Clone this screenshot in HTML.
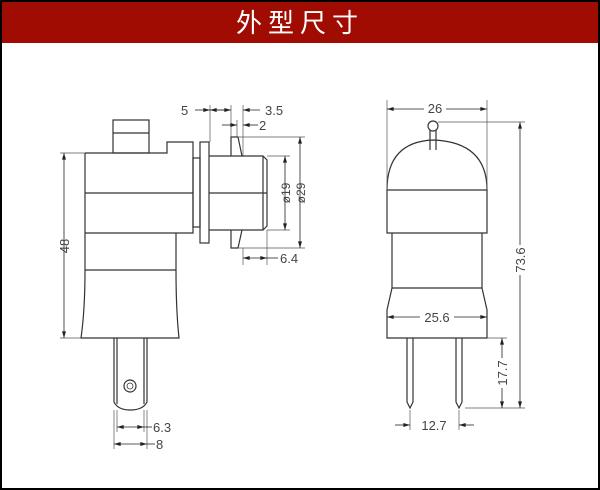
<!DOCTYPE html>
<html><head><meta charset="utf-8"><style>
html,body{margin:0;padding:0;background:#000;}
.wrap{position:absolute;left:0;top:0;width:600px;height:490px;background:#000;}
svg{position:absolute;left:0;top:0;}
</style></head><body><div class="wrap">
<svg width="600" height="490" viewBox="0 0 600 490" font-family="'Liberation Sans','DejaVu Sans',sans-serif">
<defs>
<marker id="a" viewBox="0 0 10 6" refX="10" refY="3" markerWidth="7" markerHeight="4" orient="auto-start-reverse" markerUnits="userSpaceOnUse"><path d="M0,0L10,3L0,6z" fill="#222"/></marker>
</defs>
<rect x="2" y="2" width="596" height="486" fill="#fff"/>
<rect x="2" y="2" width="596" height="41" fill="#a00c02"/>
<text x="300" y="32" text-anchor="middle" fill="#fff" font-size="26" font-family="'Liberation Sans','Noto Sans CJK SC',sans-serif" letter-spacing="6">外型尺寸</text>

<g fill="none" stroke="#333" stroke-width="1.2">
<!-- left view -->
<rect x="113" y="120" width="36" height="33"/>
<line x1="113" y1="133" x2="149" y2="133"/>
<path d="M85,153 L167,153 L167,142 L193,142 L193,233 L176,233"/>
<line x1="85" y1="153" x2="85" y2="270"/>
<line x1="85" y1="193" x2="193" y2="193"/>
<line x1="85" y1="233" x2="176" y2="233"/>
<line x1="176" y1="233" x2="176" y2="270"/>
<line x1="85" y1="270" x2="176" y2="270"/>
<path d="M85,270 Q85,310 81,338 L179,338 Q176,310 176,270"/>
<rect x="193" y="158" width="7" height="69"/>
<rect x="200" y="142" width="9" height="101"/>
<path d="M209,156 L263,156 L267,160 L267,226 L263,230 L209,230"/>
<line x1="263" y1="156" x2="263" y2="230"/>
<line x1="209" y1="193" x2="267" y2="193"/>
<path d="M231,156 L231,137 L238,137 L242,156"/>
<path d="M231,230 L231,248 L238,248 L242,230"/>
<path d="M114,338 L114,402 Q118,410 130,410 Q143,410 147,402 L147,338"/>
<line x1="117" y1="338" x2="117" y2="404"/>
<line x1="144" y1="338" x2="144" y2="404"/>
<circle cx="130" cy="386" r="6"/>
<circle cx="130" cy="386" r="3" stroke-width="0.8"/>
</g>
<g fill="none" stroke="#555" stroke-width="0.7">
<line x1="60" y1="153" x2="85" y2="153"/><line x1="60" y1="338" x2="81" y2="338"/>
<line x1="210" y1="105" x2="210" y2="142"/><line x1="231" y1="105" x2="231" y2="137"/>
<line x1="237" y1="120" x2="237" y2="137"/><line x1="243" y1="105" x2="243" y2="156"/>
<line x1="267" y1="156" x2="290" y2="156"/><line x1="267" y1="230" x2="290" y2="230"/>
<line x1="238" y1="137" x2="305" y2="137"/><line x1="238" y1="248" x2="305" y2="248"/>
<line x1="243" y1="248" x2="243" y2="265"/><line x1="267" y1="230" x2="267" y2="265"/>
<line x1="117" y1="410" x2="117" y2="432"/><line x1="144" y1="410" x2="144" y2="432"/>
<line x1="114" y1="410" x2="114" y2="449"/><line x1="147" y1="410" x2="147" y2="449"/>
</g>
<g stroke="#222" stroke-width="0.8" fill="none">
<line x1="64" y1="153" x2="64" y2="338" marker-start="url(#a)" marker-end="url(#a)"/>
<line x1="285" y1="156" x2="285" y2="230" marker-start="url(#a)" marker-end="url(#a)"/>
<line x1="300" y1="137" x2="300" y2="248" marker-start="url(#a)" marker-end="url(#a)"/>
<line x1="195" y1="110" x2="210" y2="110" marker-end="url(#a)"/>
<line x1="231" y1="110" x2="210" y2="110" marker-end="url(#a)"/>
<line x1="210" y1="110" x2="231" y2="110" marker-end="url(#a)"/>
<line x1="260" y1="110" x2="243" y2="110" marker-end="url(#a)"/>
<line x1="222" y1="125" x2="237" y2="125" marker-end="url(#a)"/>
<line x1="258" y1="125" x2="243" y2="125" marker-end="url(#a)"/>
<line x1="243" y1="258" x2="267" y2="258" marker-start="url(#a)" marker-end="url(#a)"/>
<line x1="117" y1="427" x2="144" y2="427" marker-start="url(#a)" marker-end="url(#a)"/>
<line x1="144" y1="427" x2="152" y2="427"/>
<line x1="114" y1="444" x2="147" y2="444" marker-start="url(#a)" marker-end="url(#a)"/>
<line x1="147" y1="444" x2="155" y2="444"/>
<line x1="267" y1="258" x2="278" y2="258"/>
</g>
<g fill="#444" font-size="13">
<text x="181" y="115">5</text>
<text x="265" y="115">3.5</text>
<text x="259" y="130">2</text>
<text x="280" y="263">6.4</text>
<text x="153" y="432">6.3</text>
<text x="156" y="449">8</text>
<text transform="translate(69,246) rotate(-90)" text-anchor="middle">48</text>
<text transform="translate(290,193) rotate(-90)" text-anchor="middle" font-size="12">ø19</text>
<text transform="translate(305,193) rotate(-90)" text-anchor="middle" font-size="12">ø29</text>
</g>

<!-- right view -->
<g fill="none" stroke="#333" stroke-width="1.2">
<path d="M387,190 Q387,142 433,140 Q487,142 487,190 Z"/>
<path d="M387,190 L387,233 L487,233 L487,190"/>
<line x1="392" y1="233" x2="392" y2="288"/><line x1="482" y1="233" x2="482" y2="288"/>
<line x1="392" y1="288" x2="482" y2="288"/>
<path d="M392,288 L387,310 L387,338 L487,338 L487,310 L482,288"/>
<line x1="430" y1="128" x2="430" y2="150"/><line x1="436" y1="128" x2="436" y2="150"/>
<circle cx="433" cy="126" r="5" fill="#fff"/>
<path d="M407,338 L407,402 L410,408 L413,402 L413,338"/>
<path d="M456,338 L456,402 L459,408 L462,402 L462,338"/>
</g>
<g fill="none" stroke="#555" stroke-width="0.7">
<line x1="387" y1="100" x2="387" y2="190"/><line x1="487" y1="100" x2="487" y2="190"/>
<line x1="438" y1="122" x2="525" y2="122"/>
<line x1="465" y1="408" x2="525" y2="408"/><line x1="487" y1="338" x2="507" y2="338"/>
<line x1="410" y1="410" x2="410" y2="430"/><line x1="459" y1="410" x2="459" y2="430"/>
</g>
<g stroke="#222" stroke-width="0.8" fill="none">
<line x1="387" y1="109" x2="487" y2="109" marker-start="url(#a)" marker-end="url(#a)"/>
<line x1="520" y1="122" x2="520" y2="408" marker-start="url(#a)" marker-end="url(#a)"/>
<line x1="387" y1="317" x2="487" y2="317" marker-start="url(#a)" marker-end="url(#a)"/>
<line x1="502" y1="338" x2="502" y2="408" marker-start="url(#a)" marker-end="url(#a)"/>
<line x1="395" y1="425" x2="410" y2="425" marker-end="url(#a)"/>
<line x1="474" y1="425" x2="459" y2="425" marker-end="url(#a)"/>
</g>
<g fill="#444" font-size="13">
<rect x="424" y="102" width="22" height="12" fill="#fff"/>
<text x="435" y="113" text-anchor="middle">26</text>
<rect x="420" y="310" width="34" height="12" fill="#fff"/>
<text x="437" y="322" text-anchor="middle">25.6</text>
<text x="434" y="430" text-anchor="middle">12.7</text>
<rect x="514" y="245" width="12" height="30" fill="#fff"/>
<text transform="translate(525,260) rotate(-90)" text-anchor="middle">73.6</text>
<rect x="496" y="358" width="12" height="30" fill="#fff"/>
<text transform="translate(507,373) rotate(-90)" text-anchor="middle">17.7</text>
</g>
</svg>
</div></body></html>
